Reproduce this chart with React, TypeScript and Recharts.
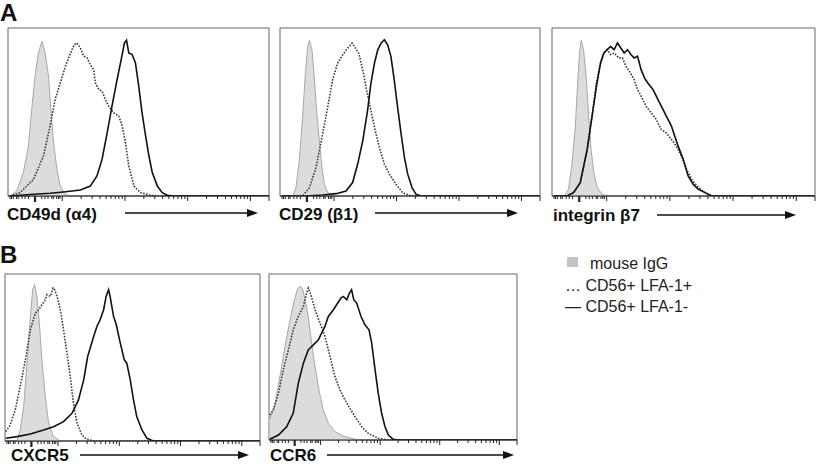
import React from 'react';
import { ComposedChart, Area, Line, XAxis, YAxis, ReferenceArea } from 'recharts';

type Pt = [number, number];

// ---- data: [channel (0-1024, log display), % of max] ----
const cd49dIgG: Pt[] = [[8,0],[34,3],[60,13.9],[80,29.7],[93,51.5],[106,71.3],[119,85.1],[133,92.1],[146,85.1],[159,71.3],[168,51.5],[179,31.7],[192,15.8],[205,5.9],[224,1],[244,0]];
const cd49dPos: Pt[] = [[8,0],[47,2],[100,9.9],[139,23.8],[165,41.6],[185,57.4],[205,67.3],[225,77.2],[238,82.2],[251,87.1],[260,90.1],[270,91.1],[284,88.1],[297,83.2],[310,82.2],[323,78.2],[336,75.2],[343,67.3],[356,63.4],[369,62.4],[382,57.4],[395,53.5],[415,49.5],[435,47.5],[448,41.6],[461,31.7],[474,17.8],[494,5.9],[520,2],[559,0.4],[586,0],[1024,0]];
const cd49dNeg: Pt[] = [[8,0],[100,1],[165,1.6],[218,2.4],[284,3.6],[323,5.9],[349,11.9],[369,21.8],[389,37.6],[408,53.5],[428,69.3],[444,81.2],[457,91.1],[465,92.7],[474,85.1],[487,84.2],[500,79.2],[513,65.3],[526,49.5],[540,35.6],[553,23.8],[566,13.9],[586,5.9],[605,2],[625,0.4],[651,0],[1024,0]];

const cd29IgG: Pt[] = [[50,0],[63,5],[76,21],[89,47],[100,73],[109,89],[116,92.6],[126,87],[135,71],[144,51],[155,33],[165,17],[175,7],[188,2],[207,0]];
const cd29Pos: Pt[] = [[8,0],[89,0],[116,5],[142,17],[168,37],[188,53],[207,69],[227,79],[247,84],[266,88],[284,91],[297,88],[310,85],[326,75],[341,63],[358,51],[375,39],[391,29],[411,19],[431,13],[457,7],[483,2],[509,0.4],[536,0],[1024,0]];
const cd29Neg: Pt[] = [[8,0],[102,0],[168,0.6],[221,1.4],[260,3],[286,8],[306,19],[326,33],[345,51],[358,67],[372,79],[385,87],[398,91],[411,93],[424,90],[437,83],[450,69],[463,53],[477,37],[490,23],[503,13],[520,5],[536,1],[555,0],[1024,0]];

const b7IgG: Pt[] = [[47,0],[64,4],[77,17.8],[91,41.6],[100,67.3],[108,87.1],[114,92.7],[123,87.1],[134,69.3],[143,47.5],[152,27.7],[163,13.9],[176,5],[196,1],[215,0]];
const b7Pos: Pt[] = [[8,0],[58,0],[84,2],[110,7.9],[137,27.7],[156,47.5],[173,67.3],[189,79.2],[202,85.1],[215,87.1],[228,84.2],[242,85.1],[261,82.2],[274,82.2],[288,77.2],[301,74.3],[320,69.3],[333,63.4],[347,59.4],[366,53.5],[386,49.5],[406,45.5],[425,39.6],[445,37.6],[465,33.7],[484,29.7],[504,23.8],[524,15.8],[544,9.9],[570,5],[596,2],[622,0],[1024,0]];
const b7Neg: Pt[] = [[8,0],[58,0],[84,2],[110,7.9],[137,27.7],[156,47.5],[173,65.3],[189,79.2],[202,85.1],[215,87.1],[228,89.1],[242,87.1],[255,91.1],[268,88.1],[281,85.1],[294,87.1],[307,84.2],[320,82.2],[333,83.2],[347,75.2],[360,70.3],[373,67.3],[393,63.4],[406,59.4],[419,55.4],[432,51.5],[445,47.5],[465,41.6],[478,35.6],[491,29.7],[511,21.8],[530,11.9],[550,6.9],[570,4],[596,2],[622,0],[1024,0]];

const cxcr5IgG: Pt[] = [[48,0],[61,6.6],[75,20.6],[88,46.6],[102,74.6],[111,90.6],[119,93.6],[128,86.6],[138,70.6],[148,48.6],[162,26.6],[175,10.6],[195,2.6],[222,0]];
const cxcr5Pos: Pt[] = [[3,5.6],[21,9.6],[41,18.6],[61,32.6],[82,48.6],[102,66.6],[122,76.6],[135,78.6],[148,81.6],[162,84.6],[168,87.6],[182,86.6],[193,91.6],[199,90.6],[209,86.6],[222,78.6],[235,66.6],[249,52.6],[262,38.6],[275,22.6],[289,10.6],[309,3.6],[329,1],[356,0],[1024,0]];
const cxcr5Neg: Pt[] = [[3,1.6],[48,2.6],[102,4.2],[155,6.6],[195,8.6],[235,11.6],[269,16.6],[295,24.6],[316,36.6],[332,50.6],[342,55.6],[356,62.6],[369,68.6],[382,72.6],[396,78.6],[406,86.6],[416,90.6],[422,86.6],[436,74.6],[447,69.6],[460,60.6],[479,48.6],[489,46.6],[503,36.6],[516,24.6],[529,14.6],[550,6.6],[570,1.6],[596,0],[1024,0]];

const ccr6IgG: Pt[] = [[3,12.1],[25,22.1],[45,38.2],[66,56.3],[87,72.4],[105,84.5],[118,90.9],[128,92.6],[138,91.5],[149,84.5],[162,74.4],[176,58.4],[190,44.3],[206,30.2],[224,18.1],[245,10.1],[272,5],[307,2.4],[341,1],[369,0]];
const ccr6Pos: Pt[] = [[3,15.1],[18,18.1],[39,28.2],[59,42.3],[80,54.3],[100,66.4],[121,74.4],[142,80.5],[155,88.5],[162,91.5],[173,87.5],[190,78.5],[211,70.4],[231,62.4],[252,50.3],[272,38.2],[293,30.2],[314,24.1],[334,19.1],[355,14.1],[383,8],[410,4],[451,1],[493,0],[1024,0]];
const ccr6Neg: Pt[] = [[3,0.4],[39,3],[73,8],[100,16.1],[121,34.2],[142,46.3],[162,54.3],[183,57.3],[204,60.4],[217,64.4],[231,68.4],[245,74.4],[266,78.5],[279,81.5],[297,85.5],[307,86.5],[321,84.5],[332,88.5],[341,90.5],[350,84.5],[362,82.5],[380,74.4],[396,69.4],[413,66.4],[424,58.4],[438,42.3],[451,28.2],[465,16.1],[479,8],[493,3],[513,0.4],[534,0],[1024,0]];

const panelLabels = ['CD49d (\u03b14)', 'CD29 (\u03b21)', 'integrin \u03b27', 'CXCR5', 'CCR6'];
const legendLabels = ['mouse IgG', '\u2026 CD56+ LFA-1+', '\u2014 CD56+ LFA-1-'];

// ---- axis ticks (log display) ----
const ZERO_TICK = 106;
const FIRST_DECADE = 213;
const DECADE = 246;
const LINEAR_OFFSETS = [26, 39, 51, 66, 72, 85, 92, 98];
const MAJOR_TICKS = [0, 1, 2, 3].map((d) => FIRST_DECADE + d * DECADE).concat([1024]);
const TICKS: number[] = (() => {
  const t: number[] = [ZERO_TICK];
  LINEAR_OFFSETS.forEach((o) => { t.push(ZERO_TICK - o); t.push(ZERO_TICK + o); });
  MAJOR_TICKS.forEach((m) => {
    t.push(m);
    for (let k = 2; k <= 9; k++) {
      const v = Math.round(m + DECADE * Math.log10(k));
      if (v < 1024) t.push(v);
    }
  });
  return Array.from(new Set(t)).sort((a, b) => a - b);
})();

const toRows = (pts: Pt[]) => pts.map(([x, y]) => ({ x, y }));

const FONT = '"Liberation Sans", Arial, sans-serif';

const renderTick = (props: any) => {
  const { x, y, payload } = props;
  const v = payload.value;
  const isZero = v === ZERO_TICK;
  const isMajor = MAJOR_TICKS.includes(v);
  const len = isZero ? 6 : isMajor ? 5 : 3;
  return (
    <line x1={x} x2={x} y1={y} y2={y + len} stroke="#222" strokeWidth={isZero ? 2.2 : 1} />
  );
};

type PanelCfg = {
  left: number; top: number; width: number; height: number;
  igg: Pt[]; pos: Pt[]; neg: Pt[];
};

const PANELS: PanelCfg[] = [
  { left: 8, top: 28, width: 261, height: 168, igg: cd49dIgG, pos: cd49dPos, neg: cd49dNeg },
  { left: 280, top: 28, width: 260, height: 168, igg: cd29IgG, pos: cd29Pos, neg: cd29Neg },
  { left: 552, top: 28, width: 263, height: 168, igg: b7IgG, pos: b7Pos, neg: b7Neg },
  { left: 5, top: 274, width: 255, height: 167, igg: cxcr5IgG, pos: cxcr5Pos, neg: cxcr5Neg },
  { left: 269, top: 274, width: 248, height: 166, igg: ccr6IgG, pos: ccr6Pos, neg: ccr6Neg },
];

const LABELS = [
  { x: 7, y: 220, ax1: 125, ax2: 258, ay: 213 },
  { x: 279, y: 220, ax1: 375, ax2: 518, ay: 213 },
  { x: 553, y: 221, ax1: 657, ax2: 796, ay: 215 },
  { x: 11, y: 461, ax1: 80, ax2: 249, ay: 455 },
  { x: 270, y: 461, ax1: 327, ax2: 514, ay: 455 },
];

function Panel({ cfg }: { cfg: PanelCfg }) {
  const axisH = 14;
  return (
    <div style={{ position: 'absolute', left: cfg.left - 1, top: cfg.top - 1 }}>
      <ComposedChart
        width={cfg.width + 2}
        height={cfg.height + 1 + axisH}
        margin={{ top: 1, right: 1, bottom: 0, left: 1 }}
      >
        <XAxis
          dataKey="x" type="number" domain={[0, 1024]} allowDataOverflow
          ticks={TICKS} interval={0} tickSize={0} tickMargin={0}
          tick={renderTick} height={axisH} stroke="#222" axisLine={{ stroke: '#222', strokeWidth: 1.2 }}
        />
        <YAxis type="number" domain={[0, 100]} allowDataOverflow width={0} hide />
        <ReferenceArea x1={0} x2={1024} y1={0} y2={100} fill="none" fillOpacity={0}
          stroke="#666" strokeWidth={1} ifOverflow="visible" />
        <Area data={toRows(cfg.igg)} dataKey="y" type="linear" fill="#dcdcdc" fillOpacity={1}
          stroke="#a8a8a8" strokeWidth={1} isAnimationActive={false} dot={false} activeDot={false} />
        <Line data={toRows(cfg.pos)} dataKey="y" type="linear" stroke="#3a3a3a" strokeWidth={1.6}
          strokeDasharray="1.6 1.4" dot={false} activeDot={false} isAnimationActive={false} />
        <Line data={toRows(cfg.neg)} dataKey="y" type="linear" stroke="#111" strokeWidth={1.6}
          dot={false} activeDot={false} isAnimationActive={false} />
      </ComposedChart>
    </div>
  );
}

export default function App() {
  return (
    <div style={{ position: 'absolute', left: 0, top: 0, width: 817, height: 465, background: '#fff', fontFamily: FONT }}>
      {PANELS.map((p, i) => <Panel key={i} cfg={p} />)}
      <svg width={817} height={465} style={{ position: 'absolute', left: 0, top: 0, pointerEvents: 'none' }}>
        <text x={0} y={21} fontFamily={FONT} fontWeight="bold" fontSize={24} fill="#111">A</text>
        <text x={0} y={263} fontFamily={FONT} fontWeight="bold" fontSize={24} fill="#111">B</text>
        {LABELS.map((l, i) => (
          <g key={i}>
            <text x={l.x} y={l.y} fontFamily={FONT} fontWeight="bold" fontSize={17} fill="#111">{panelLabels[i]}</text>
            <line x1={l.ax1} x2={l.ax2 - 8} y1={l.ay} y2={l.ay} stroke="#111" strokeWidth={1.4} />
            <polygon points={`${l.ax2},${l.ay} ${l.ax2 - 11},${l.ay - 4} ${l.ax2 - 11},${l.ay + 4}`} fill="#111" />
          </g>
        ))}
        <rect x={567} y={257} width={11} height={10} fill="#c4c4c4" />
        <text x={590} y={269} fontFamily={FONT} fontSize={16} fill="#222">{legendLabels[0]}</text>
        <text x={565} y={291} fontFamily={FONT} fontSize={16} fill="#222">{legendLabels[1]}</text>
        <text x={565} y={312} fontFamily={FONT} fontSize={16} fill="#222">{legendLabels[2]}</text>
      </svg>
    </div>
  );
}
